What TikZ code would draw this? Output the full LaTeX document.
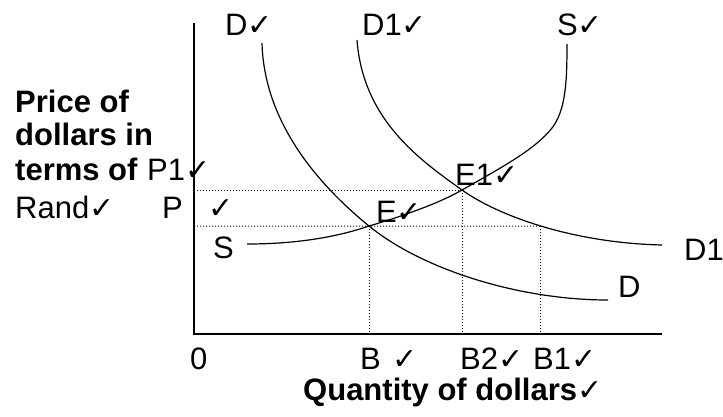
\documentclass[tikz,border=0pt]{standalone}
\usepackage{fontspec}
\usetikzlibrary{intersections}
\setmainfont{Liberation Sans}
\newfontfamily\chkfont{DejaVu Sans}
\newcommand\ck{{\chkfont\fontsize{30}{30}\selectfont ✓}}
\begin{document}
\begin{tikzpicture}[x=1pt,y=-1pt,
  lbl/.style={anchor=base west,inner sep=0pt,font=\fontsize{31}{36}\selectfont},
  blbl/.style={anchor=base west,inner sep=0pt,font=\fontsize{31}{36}\selectfont\bfseries},
  curve/.style={line width=1.2pt},
  axis/.style={line width=1.3pt},
  guide/.style={line width=1pt,dash pattern=on 1.1pt off 1.9pt}]
\useasboundingbox (0,0) rectangle (723,416);
% axes
\coordinate (Ytop) at (194,23);
\coordinate (O) at (194,334);
\coordinate (Xend) at (662,334);
\draw[axis] (Ytop) -- (O) -- (Xend);
% key points
\coordinate (E) at (369,226);
\coordinate (E1) at (462,190);
\coordinate (P1y) at (194,190);
\coordinate (Py) at (194,226);
% curves
\draw[curve] (262,43) .. controls (264,120) and (315,182) .. (E)
  .. controls (423,270) and (520,300) .. (608,300);
\draw[curve,name path=done] (357,40) .. controls (363,120) and (420,160) .. (E1)
  .. controls (500,217) and (575,243) .. (662,245);
\draw[curve] (247,244) .. controls (300,244) and (340,236) .. (E)
  .. controls (400,217) and (440,203) .. (E1)
  .. controls (497,170) and (535,150) .. (552,128)
  .. controls (566,110) and (567,80) .. (567,44);
\path[name path=pline] (Py) -- ++(500,0);
\path[name intersections={of=done and pline,by=F}];
\coordinate (Bx) at (E |- O);
\coordinate (B2x) at (E1 |- O);
\coordinate (B1x) at (F |- O);
% guides
\draw[guide] (P1y) -- (E1);
\draw[guide] (Py) -- (F);
\draw[guide] (E) -- (Bx);
\draw[guide] (E1) -- (B2x);
\draw[guide] (F) -- (B1x);
% labels
\node[lbl] (lD) at (225,35) {D\ck};
\node[lbl] (lD1) at (362,35) {D1\ck};
\node[lbl] (lS) at (557,35) {S\ck};
\node[lbl] (lE1) at (455,185) {E1\ck};
\node[lbl] (lE) at (376,222) {E\ck};
\node[lbl] (lS2) at (213,258) {S};
\node[lbl] (lD1b) at (684,260) {D1};
\node[lbl] (lDb) at (618,297) {D};
\node[lbl] (lP1) at (147,180) {P1\ck};
\node[lbl] (lP) at (162,218) {P};
\node[lbl] (lPck) at (208,218) {\ck};
\node[lbl] (lRand) at (15,218) {Rand\ck};
\node[blbl] (t1) at (15,112) {Price of};
\node[blbl] (t2) at (15,145) {dollars in};
\node[blbl] (t3) at (15,180) {terms of};
\node[lbl] (l0) at (190,369) {0};
\node[lbl] (lB) at (360,369) {B};
\node[lbl] (lBck) at (392,369) {\ck};
\node[lbl] (lB2) at (460,369) {B2\ck};
\node[lbl] (lB1) at (533,369) {B1\ck};
\node[blbl] (xl) at (303,400) {Quantity of dollars\ck};
\end{tikzpicture}
\end{document}
